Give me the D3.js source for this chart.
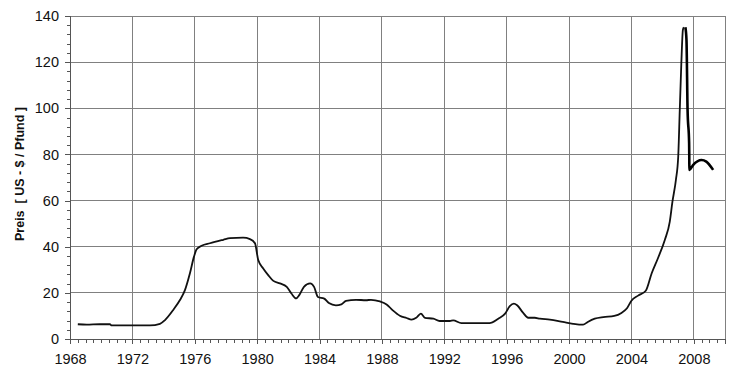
<!DOCTYPE html>
<html>
<head>
<meta charset="utf-8">
<script src="https://cdn.jsdelivr.net/npm/d3@7"></script>
<style>
html,body{margin:0;padding:0;background:#fff;}
svg{display:block;}
text{font-family:"Liberation Sans",Arial,sans-serif;}
</style>
</head>
<body>
<svg id="chart" width="755" height="382"></svg>
<script>
// Price history (US-$ per pound)
const years = [1968.5,1969.07,1969.9,1970.56,1970.67,1971.5,1972.5,1973.13,1973.77,1974.09,1974.62,1975.05,1975.37,1975.69,1975.95,1976.12,1976.44,1976.97,1977.83,1978.26,1979.1,1979.54,1979.86,1980.07,1980.39,1980.71,1981.04,1981.46,1981.9,1982.2,1982.5,1982.7,1983.0,1983.4,1983.65,1983.9,1984.3,1984.6,1985.05,1985.4,1985.7,1986.34,1986.98,1987.3,1987.87,1988.3,1988.7,1989.15,1989.58,1989.9,1990.2,1990.5,1990.76,1991.3,1991.7,1992.36,1992.57,1993.1,1994.9,1995.46,1995.9,1996.2,1996.46,1996.67,1997.06,1997.38,1997.8,1998.13,1998.77,1999.6,2000.26,2000.9,2001.2,2001.65,2002.2,2002.9,2003.36,2003.7,2004.0,2004.43,2004.92,2005.3,2005.7,2006.14,2006.46,2006.63,2006.85,2007.0,2007.1,2007.2,2007.3,2007.36,2007.46];
const prices = [6.4,6.2,6.4,6.4,5.9,5.9,5.9,5.9,6.6,8.2,12.6,16.9,21.2,28.5,35.7,38.9,40.4,41.5,43.0,43.7,43.9,43.3,41.5,34.2,30.6,27.7,25.2,24.1,22.6,19.7,17.6,19.0,22.6,24.1,22.6,18.2,17.5,15.6,14.6,15.0,16.5,17.0,16.8,17.0,16.3,15.0,12.4,10.1,9.1,8.4,9.2,11.0,9.2,8.8,7.8,7.8,8.1,6.9,6.9,8.8,11.0,14.2,15.3,14.6,11.3,9.2,9.2,8.8,8.4,7.4,6.6,6.2,7.4,8.8,9.5,10.0,11.3,13.2,16.6,18.8,20.9,28.5,35.0,42.9,50.9,59.5,68.9,79.0,99.3,119.5,134.0,135.1];
// Decline after the 2007 peak
const recentYears = [2007.46,2007.53,2007.6,2007.7,2007.72,2007.95,2008.5,2008.8,2009.24];
const recentPrices = [135.1,129.6,99.3,84.8,73.3,75.4,77.6,76.9,73.3];

const yTicks = [0,20,40,60,80,100,120,140];
const xTicks = [1968,1972,1976,1980,1984,1988,1992,1996,2000,2004,2008];
const yLabel = "Preis  [ US - $ / Pfund ]";

const svg = d3.select("#chart");
const L = 70, R = 725, T = 16, B = 339;
const x = d3.scaleLinear().domain([1968, 2010]).range([L, R]);
const y = d3.scaleLinear().domain([0, 140]).range([B, T]);

// grid
const g = svg.append("g");
g.selectAll("line.h").data(yTicks.slice(1)).join("line")
  .attr("x1", L).attr("x2", R).attr("y1", d => y(d)).attr("y2", d => y(d))
  .attr("stroke", "#808080").attr("stroke-width", 1).attr("shape-rendering", "crispEdges");
g.selectAll("line.v").data(xTicks.slice(1)).join("line")
  .attr("y1", T).attr("y2", B).attr("x1", d => x(d)).attr("x2", d => x(d))
  .attr("stroke", "#808080").attr("stroke-width", 1).attr("shape-rendering", "crispEdges");
// right border
svg.append("line").attr("x1", R).attr("x2", R).attr("y1", T).attr("y2", B)
  .attr("stroke", "#808080").attr("shape-rendering", "crispEdges");

// axes
const yMinor = d3.range(0, 141, 4);
const xMinor = d3.range(1968, 2010.01, 0.5);
const yAxis = d3.axisLeft(y).tickValues(yTicks).tickSize(5).tickPadding(6).tickFormat(d3.format("d"));
const yAxisMinor = d3.axisLeft(y).tickValues(yMinor).tickSize(3).tickFormat("");
const xAxis = d3.axisBottom(x).tickValues(xTicks).tickSize(5).tickPadding(10).tickFormat(d3.format("d"));
const xAxisMinor = d3.axisBottom(x).tickValues(xMinor).tickSize(4).tickFormat("");

function styleAxis(sel) {
  sel.selectAll("path").attr("stroke", "#555").attr("shape-rendering", "crispEdges");
  sel.selectAll("line").attr("stroke", "#555").attr("shape-rendering", "crispEdges");
  sel.selectAll("text").attr("font-size", 14.5).attr("fill", "#111")
    .attr("font-family", "'Liberation Sans', Arial, sans-serif");
}
svg.append("g").attr("transform", `translate(${L},0)`).call(yAxisMinor).call(styleAxis);
svg.append("g").attr("transform", `translate(${L},0)`).call(yAxis).call(styleAxis);
svg.append("g").attr("transform", `translate(0,${B})`).call(xAxisMinor).call(styleAxis);
svg.append("g").attr("transform", `translate(0,${B})`).call(xAxis).call(styleAxis);

// y label
svg.append("text")
  .attr("transform", `translate(24,174) rotate(-90)`)
  .attr("text-anchor", "middle")
  .attr("font-size", 12.5).attr("font-weight", "bold").attr("fill", "#111")
  .attr("xml:space", "preserve")
  .style("white-space", "pre")
  .text(yLabel);

// lines
const line = d3.line().x(d => x(d[0])).y(d => y(d[1])).curve(d3.curveMonotoneX);
svg.append("path").datum(d3.zip(years, prices))
  .attr("d", line).attr("fill", "none").attr("stroke", "#111")
  .attr("stroke-width", 1.8).attr("stroke-linejoin", "round");
svg.append("path").datum(d3.zip(recentYears, recentPrices))
  .attr("d", line).attr("fill", "none").attr("stroke", "#000")
  .attr("stroke-width", 2.6).attr("stroke-linejoin", "round");
</script>
</body>
</html>
